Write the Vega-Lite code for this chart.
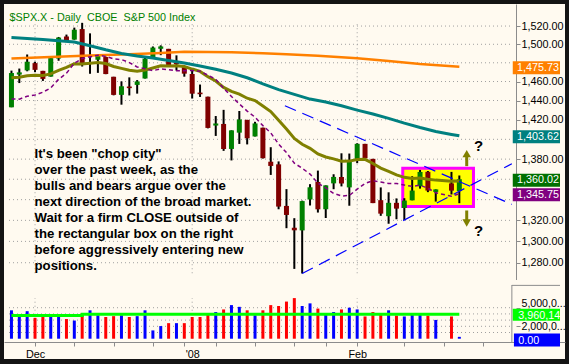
{
"$schema":"https://vega.github.io/schema/vega-lite/v6.json",
"background":"#141414",
"padding":{"left":4,"top":4,"right":4,"bottom":5},
"spacing":0,
"bounds":"flush",
"resolve":{"scale":{"color":"independent"}},
"config":{"view":{"fill":"#fffaf0","stroke":null},"font":"Liberation Sans","concat":{"spacing":0}},
"datasets":{
"bars":[
{"k":0,"date":"2007-11-28","o":1432.95,"h":1471.62,"l":1432.95,"c":1469.02,"v":4580000000,"vdir":"up","sma10":1441.54,"ema20":1464.0},
{"k":1,"date":"2007-11-29","o":1467.41,"h":1473.81,"l":1458.36,"c":1469.72,"v":3640000000,"vdir":"up","sma10":1441.45,"ema20":1464.54},
{"k":2,"date":"2007-11-30","o":1471.83,"h":1488.94,"l":1470.89,"c":1481.14,"v":4440000000,"vdir":"up","sma10":1444.45,"ema20":1466.12},
{"k":3,"date":"2007-12-03","o":1479.63,"h":1481.16,"l":1470.08,"c":1472.42,"v":3360000000,"vdir":"down","sma10":1445.82,"ema20":1466.72},
{"k":4,"date":"2007-12-04","o":1471.34,"h":1471.34,"l":1460.66,"c":1462.79,"v":3500000000,"vdir":"down","sma10":1448.77,"ema20":1466.35},
{"k":5,"date":"2007-12-05","o":1465.22,"h":1486.09,"l":1465.22,"c":1485.01,"v":3730000000,"vdir":"up","sma10":1453.30,"ema20":1468.13},
{"k":6,"date":"2007-12-06","o":1484.59,"h":1508.02,"l":1482.19,"c":1507.34,"v":3590000000,"vdir":"up","sma10":1462.36,"ema20":1471.86},
{"k":7,"date":"2007-12-07","o":1508.60,"h":1510.63,"l":1502.66,"c":1504.66,"v":3170000000,"vdir":"down","sma10":1468.76,"ema20":1474.98},
{"k":8,"date":"2007-12-10","o":1505.11,"h":1518.27,"l":1504.96,"c":1515.96,"v":2930000000,"vdir":"up","sma10":1479.63,"ema20":1478.88},
{"k":9,"date":"2007-12-11","o":1516.68,"h":1523.57,"l":1475.99,"c":1477.65,"v":4150000000,"vdir":"down","sma10":1484.57,"ema20":1478.76},
{"k":10,"date":"2007-12-12","o":1487.58,"h":1511.96,"l":1468.23,"c":1486.59,"v":4580000000,"vdir":"up","sma10":1486.33,"ema20":1479.51},
{"k":11,"date":"2007-12-13","o":1483.27,"h":1489.40,"l":1469.21,"c":1488.41,"v":3780000000,"vdir":"up","sma10":1488.20,"ema20":1480.36},
{"k":12,"date":"2007-12-14","o":1486.19,"h":1486.67,"l":1467.78,"c":1467.95,"v":3500000000,"vdir":"down","sma10":1486.88,"ema20":1479.18},
{"k":13,"date":"2007-12-17","o":1465.05,"h":1465.05,"l":1445.43,"c":1445.90,"v":3640000000,"vdir":"down","sma10":1484.23,"ema20":1476.01},
{"k":14,"date":"2007-12-18","o":1445.92,"h":1460.16,"l":1435.65,"c":1454.98,"v":3780000000,"vdir":"up","sma10":1483.45,"ema20":1474.01},
{"k":15,"date":"2007-12-19","o":1454.70,"h":1464.42,"l":1445.31,"c":1453.00,"v":3500000000,"vdir":"down","sma10":1480.24,"ema20":1472.01},
{"k":16,"date":"2007-12-20","o":1456.42,"h":1461.53,"l":1447.22,"c":1460.12,"v":3640000000,"vdir":"up","sma10":1475.52,"ema20":1470.88},
{"k":17,"date":"2007-12-21","o":1463.19,"h":1485.40,"l":1463.19,"c":1484.46,"v":4580000000,"vdir":"up","sma10":1473.50,"ema20":1472.17},
{"k":18,"date":"2007-12-24","o":1484.55,"h":1497.63,"l":1484.55,"c":1496.45,"v":1340000000,"vdir":"up","sma10":1471.55,"ema20":1474.48},
{"k":19,"date":"2007-12-26","o":1495.12,"h":1498.85,"l":1488.20,"c":1497.66,"v":2040000000,"vdir":"up","sma10":1473.55,"ema20":1476.69},
{"k":20,"date":"2007-12-27","o":1495.05,"h":1495.05,"l":1475.86,"c":1476.27,"v":2510000000,"vdir":"down","sma10":1472.52,"ema20":1476.65},
{"k":21,"date":"2007-12-28","o":1479.83,"h":1488.01,"l":1471.70,"c":1478.49,"v":2510000000,"vdir":"up","sma10":1471.53,"ema20":1476.83},
{"k":22,"date":"2007-12-31","o":1475.25,"h":1475.83,"l":1465.13,"c":1468.36,"v":2510000000,"vdir":"down","sma10":1471.57,"ema20":1476.02},
{"k":23,"date":"2008-01-02","o":1467.97,"h":1471.77,"l":1442.07,"c":1447.16,"v":3500000000,"vdir":"down","sma10":1471.70,"ema20":1473.27},
{"k":24,"date":"2008-01-03","o":1448.30,"h":1456.80,"l":1443.73,"c":1446.60,"v":3500000000,"vdir":"down","sma10":1470.91,"ema20":1470.78},
{"k":25,"date":"2008-01-04","o":1444.01,"h":1444.01,"l":1411.19,"c":1411.63,"v":4150000000,"vdir":"down","sma10":1466.78,"ema20":1465.15},
{"k":26,"date":"2008-01-07","o":1414.07,"h":1423.87,"l":1403.45,"c":1416.18,"v":4300000000,"vdir":"up","sma10":1462.38,"ema20":1460.49},
{"k":27,"date":"2008-01-08","o":1415.71,"h":1430.28,"l":1388.30,"c":1390.19,"v":4720000000,"vdir":"down","sma10":1452.96,"ema20":1453.79},
{"k":28,"date":"2008-01-09","o":1390.25,"h":1409.19,"l":1378.70,"c":1409.13,"v":5420000000,"vdir":"up","sma10":1444.22,"ema20":1449.54},
{"k":29,"date":"2008-01-10","o":1406.78,"h":1429.09,"l":1395.31,"c":1420.33,"v":5140000000,"vdir":"up","sma10":1436.49,"ema20":1446.76},
{"k":30,"date":"2008-01-11","o":1419.91,"h":1419.91,"l":1394.83,"c":1401.02,"v":4580000000,"vdir":"down","sma10":1428.97,"ema20":1442.40},
{"k":31,"date":"2008-01-14","o":1402.91,"h":1417.89,"l":1402.91,"c":1416.25,"v":3780000000,"vdir":"up","sma10":1422.74,"ema20":1439.91},
{"k":32,"date":"2008-01-15","o":1411.88,"h":1411.88,"l":1380.60,"c":1380.95,"v":4580000000,"vdir":"down","sma10":1414.00,"ema20":1434.29},
{"k":33,"date":"2008-01-16","o":1377.41,"h":1391.99,"l":1364.27,"c":1373.20,"v":5420000000,"vdir":"down","sma10":1406.60,"ema20":1428.47},
{"k":34,"date":"2008-01-17","o":1374.79,"h":1377.72,"l":1330.67,"c":1333.25,"v":5280000000,"vdir":"down","sma10":1395.21,"ema20":1419.40},
{"k":35,"date":"2008-01-18","o":1333.90,"h":1350.28,"l":1312.51,"c":1325.19,"v":5990000000,"vdir":"down","sma10":1386.57,"ema20":1410.43},
{"k":36,"date":"2008-01-22","o":1312.94,"h":1322.09,"l":1274.29,"c":1310.50,"v":6550000000,"vdir":"down","sma10":1376.00,"ema20":1400.91},
{"k":37,"date":"2008-01-23","o":1310.41,"h":1339.02,"l":1270.05,"c":1338.60,"v":5280000000,"vdir":"up","sma10":1370.84,"ema20":1394.98},
{"k":38,"date":"2008-01-24","o":1340.13,"h":1355.15,"l":1334.31,"c":1352.07,"v":5700000000,"vdir":"up","sma10":1365.14,"ema20":1390.89},
{"k":39,"date":"2008-01-25","o":1357.32,"h":1368.56,"l":1327.50,"c":1330.61,"v":4860000000,"vdir":"down","sma10":1356.16,"ema20":1385.15},
{"k":40,"date":"2008-01-28","o":1330.70,"h":1353.97,"l":1322.26,"c":1353.96,"v":4150000000,"vdir":"up","sma10":1351.46,"ema20":1382.18},
{"k":41,"date":"2008-01-29","o":1355.94,"h":1364.93,"l":1350.19,"c":1362.30,"v":4300000000,"vdir":"up","sma10":1346.06,"ema20":1380.29},
{"k":42,"date":"2008-01-30","o":1362.22,"h":1385.86,"l":1352.95,"c":1355.81,"v":4720000000,"vdir":"down","sma10":1343.55,"ema20":1377.96},
{"k":43,"date":"2008-01-31","o":1351.98,"h":1385.62,"l":1334.08,"c":1378.55,"v":5000000000,"vdir":"up","sma10":1344.08,"ema20":1378.02},
{"k":44,"date":"2008-02-01","o":1378.60,"h":1396.02,"l":1375.93,"c":1395.42,"v":4720000000,"vdir":"up","sma10":1350.30,"ema20":1379.68},
{"k":45,"date":"2008-02-04","o":1395.38,"h":1395.38,"l":1379.69,"c":1380.82,"v":3590000000,"vdir":"down","sma10":1355.86,"ema20":1379.79},
{"k":46,"date":"2008-02-05","o":1380.28,"h":1380.28,"l":1336.64,"c":1336.64,"v":4300000000,"vdir":"down","sma10":1358.48,"ema20":1375.68},
{"k":47,"date":"2008-02-06","o":1339.48,"h":1351.96,"l":1324.34,"c":1326.45,"v":4010000000,"vdir":"down","sma10":1357.26,"ema20":1370.99},
{"k":48,"date":"2008-02-07","o":1324.01,"h":1347.16,"l":1316.75,"c":1336.91,"v":4580000000,"vdir":"up","sma10":1355.75,"ema20":1367.74},
{"k":49,"date":"2008-02-08","o":1336.88,"h":1341.22,"l":1321.06,"c":1331.29,"v":3730000000,"vdir":"down","sma10":1355.82,"ema20":1364.27},
{"k":50,"date":"2008-02-11","o":1331.92,"h":1341.40,"l":1320.32,"c":1339.13,"v":3590000000,"vdir":"up","sma10":1354.33,"ema20":1361.88},
{"k":51,"date":"2008-02-12","o":1339.35,"h":1362.94,"l":1339.35,"c":1348.86,"v":4010000000,"vdir":"up","sma10":1352.99,"ema20":1360.64},
{"k":52,"date":"2008-02-13","o":1353.12,"h":1369.23,"l":1350.78,"c":1367.21,"v":3870000000,"vdir":"up","sma10":1354.13,"ema20":1361.27},
{"k":53,"date":"2008-02-14","o":1367.33,"h":1368.16,"l":1347.31,"c":1348.86,"v":3730000000,"vdir":"down","sma10":1351.16,"ema20":1360.09},
{"k":54,"date":"2008-02-15","o":1347.52,"h":1350.00,"l":1338.13,"c":1349.99,"v":3030000000,"vdir":"up","sma10":1346.62,"ema20":1359.13},
{"k":56,"date":"2008-02-19","o":1355.86,"h":1367.28,"l":1345.05,"c":1348.78,"v":3590000000,"vdir":"down","sma10":1343.41,"ema20":1358.14},
{"k":57,"date":"2008-02-20","o":1348.39,"h":1363.71,"l":1336.55,"c":1360.02,"v":300000000,"vdir":"up","sma10":1345.75,"ema20":1358.32}
],
"longma":[
{"k":0,"ma":"sma200","v":1484.6},{"k":5,"ma":"sma200","v":1486.3},{"k":10,"ma":"sma200","v":1487.8},{"k":15,"ma":"sma200","v":1489.2},{"k":19,"ma":"sma200","v":1490.5},{"k":22,"ma":"sma200","v":1491.8},{"k":28,"ma":"sma200","v":1491.3},{"k":32,"ma":"sma200","v":1490.3},{"k":35,"ma":"sma200","v":1489.3},{"k":39,"ma":"sma200","v":1487.6},{"k":44,"ma":"sma200","v":1485.0},{"k":48,"ma":"sma200","v":1481.8},{"k":52,"ma":"sma200","v":1478.6},{"k":57,"ma":"sma200","v":1475.73},
{"k":0,"ma":"sma50","v":1507.3},{"k":4,"ma":"sma50","v":1505.3},{"k":8,"ma":"sma50","v":1502.5},{"k":10,"ma":"sma50","v":1498.5},{"k":12,"ma":"sma50","v":1494.0},{"k":14,"ma":"sma50","v":1490.0},{"k":16,"ma":"sma50","v":1487.2},{"k":18,"ma":"sma50","v":1485.2},{"k":20,"ma":"sma50","v":1482.5},{"k":22,"ma":"sma50","v":1479.8},{"k":24,"ma":"sma50","v":1476.5},{"k":26,"ma":"sma50","v":1473.0},{"k":28,"ma":"sma50","v":1469.0},{"k":30,"ma":"sma50","v":1464.0},{"k":32,"ma":"sma50","v":1457.5},{"k":34,"ma":"sma50","v":1451.5},{"k":36,"ma":"sma50","v":1446.5},{"k":38,"ma":"sma50","v":1441.5},{"k":40,"ma":"sma50","v":1438.5},{"k":42,"ma":"sma50","v":1434.5},{"k":44,"ma":"sma50","v":1430.0},{"k":46,"ma":"sma50","v":1426.0},{"k":48,"ma":"sma50","v":1421.5},{"k":50,"ma":"sma50","v":1416.5},{"k":52,"ma":"sma50","v":1412.0},{"k":54,"ma":"sma50","v":1408.0},{"k":56,"ma":"sma50","v":1405.0},{"k":57,"ma":"sma50","v":1403.62}
],
"trend":[
{"line":"upper","k":34.8,"p":1434.6},{"line":"upper","k":63.69,"p":1335.4},
{"line":"lower","k":37,"p":1270.05},{"line":"lower","k":63.69,"p":1375.4}
],
"pgrid":[{"p":1280},{"p":1300},{"p":1320},{"p":1340},{"p":1360},{"p":1380},{"p":1400},{"p":1420},{"p":1440},{"p":1460},{"p":1480},{"p":1500},{"p":1520}],
"vgrid":[{"v":1000000000},{"v":2000000000},{"v":3000000000},{"v":4000000000},{"v":5000000000}],
"months":[{"k":3,"month":"Dec"},{"k":23,"month":"'08"},{"k":44,"month":"Feb"}],
"plabels":[
{"ma":"sma200","p":1475.73,"lab":"1,475.73"},
{"ma":"sma50","p":1403.62,"lab":"1,403.62"},
{"ma":"close","p":1360.02,"lab":"1,360.02"},
{"ma":"sma10","p":1345.75,"lab":"1,345.75"}
],
"vavg":[{"k":0,"v":3730000000},{"k":9,"v":3960000000},{"k":57,"v":3960000000}],
"vlabels":[{"s":"avg","v":3960141000,"lab":"3,960,141"},{"s":"vol","v":0,"lab":"0.00"}]
},
"vconcat":[
{
"width":561,"height":276,
"layer":[
{"data":{"name":"pgrid"},"mark":{"type":"rule","color":"#a0a0a0","strokeWidth":1,"strokeDash":[1,3]},
 "encoding":{
  "y":{"field":"p","type":"quantitative","title":null,"scale":{"type":"log","domain":[1268.65,1538.94],"nice":false},
   "axis":{"orient":"right","offset":-49,"values":[1280,1300,1320,1380,1420,1440,1460,1500,1520],"format":",.2f","grid":false,"ticks":true,"tickSize":4,"tickColor":"#8c8c8c","domain":true,"domainColor":"#8c8c8c","labels":true,"labelFont":"Liberation Sans","labelFontSize":10.8,"labelColor":"#000000","labelPadding":1,"labelOverlap":false,"labelBound":false,"title":null}},
  "x":{"datum":-0.3125,"type":"quantitative","scale":{"domain":[-0.3125,69.8125],"nice":false,"zero":false},"axis":null},
  "x2":{"datum":63.6875}}},
{"data":{"name":"months"},"mark":{"type":"rule","color":"#a0a0a0","strokeWidth":1,"strokeDash":[1,3]},
 "encoding":{
  "x":{"field":"k","type":"quantitative","scale":{"domain":[-0.3125,69.8125],"nice":false,"zero":false},"axis":null},
  "y":{"datum":1522,"type":"quantitative","title":null,"scale":{"type":"log","domain":[1268.65,1538.94],"nice":false}},
  "y2":{"datum":1268.65}}},
{"data":{"values":[{}]},"mark":{"type":"rect","fill":"#ffff00","stroke":"#ff00ff","strokeWidth":3},
 "encoding":{
  "x":{"datum":49.8,"type":"quantitative","scale":{"domain":[-0.3125,69.8125],"nice":false,"zero":false},"axis":null},
  "x2":{"datum":58.8},
  "y":{"datum":1370.8,"type":"quantitative","title":null,"scale":{"type":"log","domain":[1268.65,1538.94],"nice":false}},
  "y2":{"datum":1333.3}}},
{"data":{"name":"bars"},"mark":{"type":"rule","color":"#000000","strokeWidth":2},
 "encoding":{
  "x":{"field":"k","type":"quantitative","scale":{"domain":[-0.3125,69.8125],"nice":false,"zero":false},"axis":null},
  "y":{"field":"h","type":"quantitative","title":null,"scale":{"type":"log","domain":[1268.65,1538.94],"nice":false}},
  "y2":{"field":"l"}}},
{"data":{"name":"bars"},"mark":{"type":"bar","size":5},
 "encoding":{
  "x":{"field":"k","type":"quantitative","scale":{"domain":[-0.3125,69.8125],"nice":false,"zero":false},"axis":null},
  "y":{"field":"o","type":"quantitative","title":null,"scale":{"type":"log","domain":[1268.65,1538.94],"nice":false}},
  "y2":{"field":"c"},
  "color":{"condition":{"test":"datum.c >= datum.o","value":"#008000"},"value":"#800000"}}},
{"data":{"name":"longma"},"transform":[{"filter":"datum.ma === 'sma200'"}],"mark":{"type":"line","color":"#ff8000","strokeWidth":2.5},
 "encoding":{
  "x":{"field":"k","type":"quantitative","scale":{"domain":[-0.3125,69.8125],"nice":false,"zero":false},"axis":null},
  "y":{"field":"v","type":"quantitative","title":null,"scale":{"type":"log","domain":[1268.65,1538.94],"nice":false}}}},
{"data":{"name":"longma"},"transform":[{"filter":"datum.ma === 'sma50'"}],"mark":{"type":"line","color":"#008080","strokeWidth":3},
 "encoding":{
  "x":{"field":"k","type":"quantitative","scale":{"domain":[-0.3125,69.8125],"nice":false,"zero":false},"axis":null},
  "y":{"field":"v","type":"quantitative","title":null,"scale":{"type":"log","domain":[1268.65,1538.94],"nice":false}}}},
{"data":{"name":"bars"},"mark":{"type":"line","color":"#808000","strokeWidth":3},
 "encoding":{
  "x":{"field":"k","type":"quantitative","scale":{"domain":[-0.3125,69.8125],"nice":false,"zero":false},"axis":null},
  "y":{"field":"ema20","type":"quantitative","title":null,"scale":{"type":"log","domain":[1268.65,1538.94],"nice":false}}}},
{"data":{"name":"bars"},"mark":{"type":"line","color":"#800080","strokeWidth":1.5,"strokeDash":[4,3]},
 "encoding":{
  "x":{"field":"k","type":"quantitative","scale":{"domain":[-0.3125,69.8125],"nice":false,"zero":false},"axis":null},
  "y":{"field":"sma10","type":"quantitative","title":null,"scale":{"type":"log","domain":[1268.65,1538.94],"nice":false}}}},
{"data":{"name":"trend"},"mark":{"type":"line","color":"#0000ff","strokeWidth":1.2,"strokeDash":[12,7]},
 "encoding":{
  "x":{"field":"k","type":"quantitative","scale":{"domain":[-0.3125,69.8125],"nice":false,"zero":false},"axis":null},
  "y":{"field":"p","type":"quantitative","title":null,"scale":{"type":"log","domain":[1268.65,1538.94],"nice":false}},
  "detail":{"field":"line","type":"nominal"}}},
{"data":{"values":[{}]},"mark":{"type":"text","text":"$SPX.X - Daily\u00a0 CBOE\u00a0 S&P 500 Index","align":"left","baseline":"middle","font":"Liberation Sans","fontSize":10.8,"color":"#008000"},
 "encoding":{
  "x":{"datum":-0.25,"type":"quantitative","scale":{"domain":[-0.3125,69.8125],"nice":false,"zero":false},"axis":null},
  "y":{"datum":1528.96,"type":"quantitative","title":null,"scale":{"type":"log","domain":[1268.65,1538.94],"nice":false}}}},
{"data":{"values":[{}]},"mark":{"type":"text","text":["It's been \"chop city\"","over the past week, as the","bulls and bears argue over the","next direction of the broad market.","Wait for a firm CLOSE outside of","the rectangular box on the right","before aggressively entering new","positions."],"align":"left","baseline":"top","font":"Liberation Sans","fontSize":13.2,"fontWeight":"bold","lineHeight":16,"color":"#000000"},
 "encoding":{
  "x":{"datum":2.94,"type":"quantitative","scale":{"domain":[-0.3125,69.8125],"nice":false,"zero":false},"axis":null},
  "y":{"datum":1390.9,"type":"quantitative","title":null,"scale":{"type":"log","domain":[1268.65,1538.94],"nice":false}}}},
{"data":{"values":[{}]},"mark":{"type":"rule","color":"#808000","strokeWidth":3},
 "encoding":{
  "x":{"datum":57.94,"type":"quantitative","scale":{"domain":[-0.3125,69.8125],"nice":false,"zero":false},"axis":null},
  "y":{"datum":1382.5,"type":"quantitative","title":null,"scale":{"type":"log","domain":[1268.65,1538.94],"nice":false}},
  "y2":{"datum":1373.0}}},
{"data":{"values":[{}]},"mark":{"type":"point","shape":"triangle-up","filled":true,"size":72,"color":"#808000","opacity":1},
 "encoding":{
  "x":{"datum":57.94,"type":"quantitative","scale":{"domain":[-0.3125,69.8125],"nice":false,"zero":false},"axis":null},
  "y":{"datum":1385.6,"type":"quantitative","title":null,"scale":{"type":"log","domain":[1268.65,1538.94],"nice":false}}}},
{"data":{"values":[{}]},"mark":{"type":"rule","color":"#808000","strokeWidth":3},
 "encoding":{
  "x":{"datum":57.94,"type":"quantitative","scale":{"domain":[-0.3125,69.8125],"nice":false,"zero":false},"axis":null},
  "y":{"datum":1329.5,"type":"quantitative","title":null,"scale":{"type":"log","domain":[1268.65,1538.94],"nice":false}},
  "y2":{"datum":1319.6}}},
{"data":{"values":[{}]},"mark":{"type":"point","shape":"triangle-down","filled":true,"size":72,"color":"#808000","opacity":1},
 "encoding":{
  "x":{"datum":57.94,"type":"quantitative","scale":{"domain":[-0.3125,69.8125],"nice":false,"zero":false},"axis":null},
  "y":{"datum":1317.5,"type":"quantitative","title":null,"scale":{"type":"log","domain":[1268.65,1538.94],"nice":false}}}},
{"data":{"values":[{}]},"mark":{"type":"text","text":"?","align":"center","baseline":"middle","font":"Liberation Sans","fontSize":15,"fontWeight":"bold","color":"#000000"},
 "encoding":{
  "x":{"datum":59.44,"type":"quantitative","scale":{"domain":[-0.3125,69.8125],"nice":false,"zero":false},"axis":null},
  "y":{"datum":1393.4,"type":"quantitative","title":null,"scale":{"type":"log","domain":[1268.65,1538.94],"nice":false}}}},
{"data":{"values":[{}]},"mark":{"type":"text","text":"?","align":"center","baseline":"middle","font":"Liberation Sans","fontSize":15,"fontWeight":"bold","color":"#000000"},
 "encoding":{
  "x":{"datum":59.44,"type":"quantitative","scale":{"domain":[-0.3125,69.8125],"nice":false,"zero":false},"axis":null},
  "y":{"datum":1309.5,"type":"quantitative","title":null,"scale":{"type":"log","domain":[1268.65,1538.94],"nice":false}}}},
{"data":{"name":"plabels"},"mark":{"type":"bar","orient":"horizontal","size":13,"yOffset":1},
 "encoding":{
  "x":{"datum":63.8,"type":"quantitative","scale":{"domain":[-0.3125,69.8125],"nice":false,"zero":false},"axis":null},
  "x2":{"datum":69.8125},
  "y":{"field":"p","type":"quantitative","title":null,"scale":{"type":"log","domain":[1268.65,1538.94],"nice":false}},
  "color":{"field":"ma","type":"nominal","scale":{"domain":["sma200","sma50","close","sma10"],"range":["#ff8000","#008080","#007000","#800080"]},"legend":null}}},
{"data":{"name":"plabels"},"mark":{"type":"text","align":"left","baseline":"middle","font":"Liberation Sans","fontSize":10.8,"color":"#ffffff","dy":1},
 "encoding":{
  "x":{"datum":64.35,"type":"quantitative","scale":{"domain":[-0.3125,69.8125],"nice":false,"zero":false},"axis":null},
  "y":{"field":"p","type":"quantitative","title":null,"scale":{"type":"log","domain":[1268.65,1538.94],"nice":false}},
  "text":{"field":"lab","type":"nominal"}}}
]
},
{
"width":561,"height":79,
"layer":[
{"data":{"name":"vgrid"},"mark":{"type":"rule","color":"#a0a0a0","strokeWidth":1,"strokeDash":[1,3]},
 "encoding":{
  "y":{"field":"v","type":"quantitative","title":null,"scale":{"domain":[-2465000000,8662000000],"nice":false,"zero":false},
   "axis":{"orient":"right","offset":-49,"values":[2000000000,5000000000],"labelExpr":"datum.value === 5000000000 ? '5,000,0...' : '2,000,0...'","labelOffset":{"condition":{"test":"datum.value === 5000000000","value":-4},"value":0},"grid":false,"domain":false,"ticks":true,"tickSize":4,"tickColor":"#8c8c8c","labels":true,"labelFont":"Liberation Sans","labelFontSize":10.6,"labelColor":"#000000","labelPadding":1,"labelOverlap":false,"labelBound":false,"title":null}},
  "x":{"datum":-0.3125,"type":"quantitative","title":null,"scale":{"domain":[-0.3125,69.8125],"nice":false,"zero":false}},
  "x2":{"datum":63.6875}}},
{"data":{"name":"months"},"mark":{"type":"rule","color":"#a0a0a0","strokeWidth":1,"strokeDash":[1,3]},
 "encoding":{
  "x":{"field":"k","type":"quantitative","title":null,"scale":{"domain":[-0.3125,69.8125],"nice":false,"zero":false},
   "axis":{"orient":"bottom","offset":-17,"values":[3,8,13,18,22,23,26,31,36,40,44,50,55,60],"labelExpr":"datum.value === 3 ? 'Dec' : datum.value === 23 ? \"'08\" : datum.value === 44 ? 'Feb' : ''","tickOpacity":{"condition":{"test":"datum.value === 23","value":0},"value":1},"grid":false,"ticks":true,"tickSize":4,"tickColor":"#8c8c8c","domain":true,"domainColor":"#8c8c8c","labels":true,"labelFont":"Liberation Sans","labelFontSize":10.8,"labelColor":"#000000","labelPadding":2,"labelFlush":false,"labelOverlap":false,"title":null}},
  "y":{"datum":0,"type":"quantitative","title":null,"scale":{"domain":[-2465000000,8662000000],"nice":false,"zero":false}},
  "y2":{"datum":6550000000}}},
{"data":{"name":"bars"},"mark":{"type":"bar","size":3},
 "encoding":{
  "x":{"field":"k","type":"quantitative","title":null,"scale":{"domain":[-0.3125,69.8125],"nice":false,"zero":false}},
  "y":{"field":"v","type":"quantitative","title":null,"scale":{"domain":[-2465000000,8662000000],"nice":false,"zero":false}},
  "y2":{"datum":0},
  "color":{"condition":{"test":"datum.vdir === 'up'","value":"#0000ff"},"value":"#ff0000"}}},
{"data":{"name":"vavg"},"mark":{"type":"line","color":"#00ff00","strokeWidth":3,"interpolate":"step-after"},
 "encoding":{
  "x":{"field":"k","type":"quantitative","title":null,"scale":{"domain":[-0.3125,69.8125],"nice":false,"zero":false}},
  "y":{"field":"v","type":"quantitative","title":null,"scale":{"domain":[-2465000000,8662000000],"nice":false,"zero":false}}}},
{"data":{"values":[{}]},"mark":{"type":"rule","color":"#8c8c8c","strokeWidth":1},
 "encoding":{
  "x":{"datum":63.6875,"type":"quantitative","title":null,"scale":{"domain":[-0.3125,69.8125],"nice":false,"zero":false}},
  "x2":{"datum":69.8125},
  "y":{"datum":8600000000,"type":"quantitative","title":null,"scale":{"domain":[-2465000000,8662000000],"nice":false,"zero":false}}}},
{"data":{"values":[{}]},"mark":{"type":"rule","color":"#8c8c8c","strokeWidth":1},
 "encoding":{
  "x":{"datum":63.6875,"type":"quantitative","title":null,"scale":{"domain":[-0.3125,69.8125],"nice":false,"zero":false}},
  "y":{"datum":8662000000,"type":"quantitative","title":null,"scale":{"domain":[-2465000000,8662000000],"nice":false,"zero":false}},
  "y2":{"datum":-650000000}}},
{"data":{"name":"vlabels"},"transform":[{"filter":"datum.s === 'avg'"}],"mark":{"type":"bar","orient":"horizontal","size":12,"yOffset":0.5,"color":"#00ff00"},
 "encoding":{
  "x":{"datum":63.8,"type":"quantitative","title":null,"scale":{"domain":[-0.3125,69.8125],"nice":false,"zero":false}},
  "x2":{"datum":69.8125},
  "y":{"field":"v","type":"quantitative","title":null,"scale":{"domain":[-2465000000,8662000000],"nice":false,"zero":false}}}},
{"data":{"name":"vlabels"},"transform":[{"filter":"datum.s === 'vol'"}],"mark":{"type":"bar","orient":"horizontal","size":13,"yOffset":1.2,"color":"#0000ff"},
 "encoding":{
  "x":{"datum":63.95,"type":"quantitative","title":null,"scale":{"domain":[-0.3125,69.8125],"nice":false,"zero":false}},
  "x2":{"datum":69.8125},
  "y":{"field":"v","type":"quantitative","title":null,"scale":{"domain":[-2465000000,8662000000],"nice":false,"zero":false}}}},
{"data":{"name":"vlabels"},"mark":{"type":"text","align":"left","baseline":"middle","font":"Liberation Sans","fontSize":10.8,"color":"#ffffff","dy":2,"limit":44,"ellipsis":"\u200b"},
 "encoding":{
  "x":{"datum":64.5,"type":"quantitative","title":null,"scale":{"domain":[-0.3125,69.8125],"nice":false,"zero":false}},
  "y":{"field":"v","type":"quantitative","title":null,"scale":{"domain":[-2465000000,8662000000],"nice":false,"zero":false}},
  "text":{"field":"lab","type":"nominal"}}}
]
}
]
}
